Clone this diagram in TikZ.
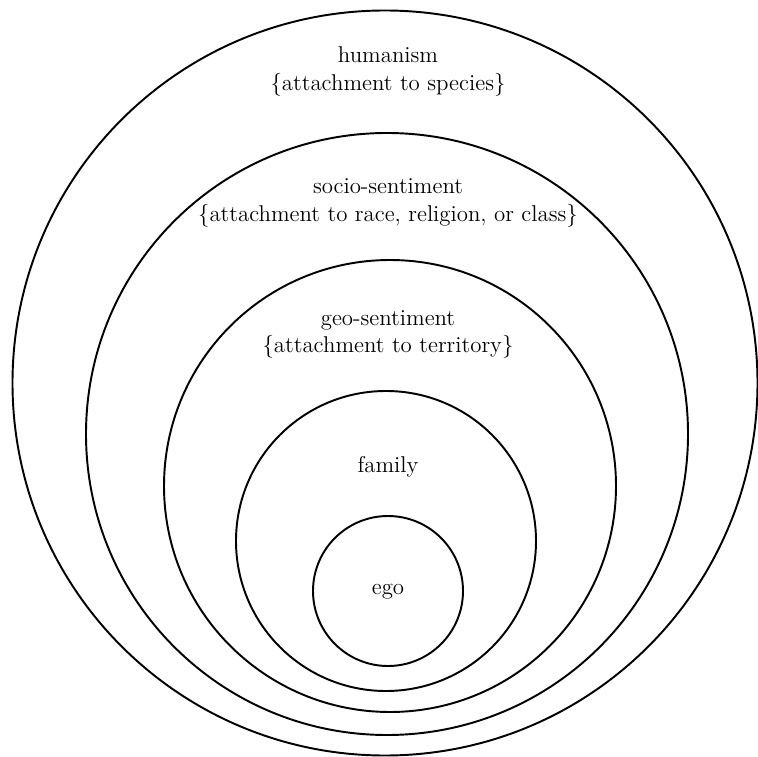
\documentclass[tikz,border=0pt]{standalone}
\usepackage{tikz}
\tikzset{ring/.style={draw, circle, line width=1.1pt, inner sep=0pt},
  ringtext/.style={align=center, font=\fontsize{13}{15.5}\selectfont}}
\begin{document}
\begin{tikzpicture}
\useasboundingbox (0,0) rectangle (15.16,15.12);
% the five rings, outermost first
\node[ring, minimum size=14.9cm] (humanism) at (7.70,7.46) {};
\node[ring, minimum size=12.04cm] (socio) at (7.74,6.44) {};
\node[ring, minimum size=9.04cm] (geo) at (7.80,5.40) {};
\node[ring, minimum size=6cm] (family) at (7.72,4.30) {};
\node[ring, minimum size=3cm] (ego) at (7.76,3.30) {};
% labels
\node[ringtext] (humanismtext) at (7.76,13.69) {humanism\\\{attachment to species\}};
\node[ringtext] (sociotext) at (7.76,11.06) {socio-sentiment\\\{attachment to race, religion, or class\}};
\node[ringtext] (geotext) at (7.76,8.43) {geo-sentiment\\\{attachment to territory\}};
\node[ringtext] (familytext) at (7.76,5.78) {family};
\node[ringtext] (egotext) at (7.76,3.28) {ego};
\end{tikzpicture}
\end{document}
